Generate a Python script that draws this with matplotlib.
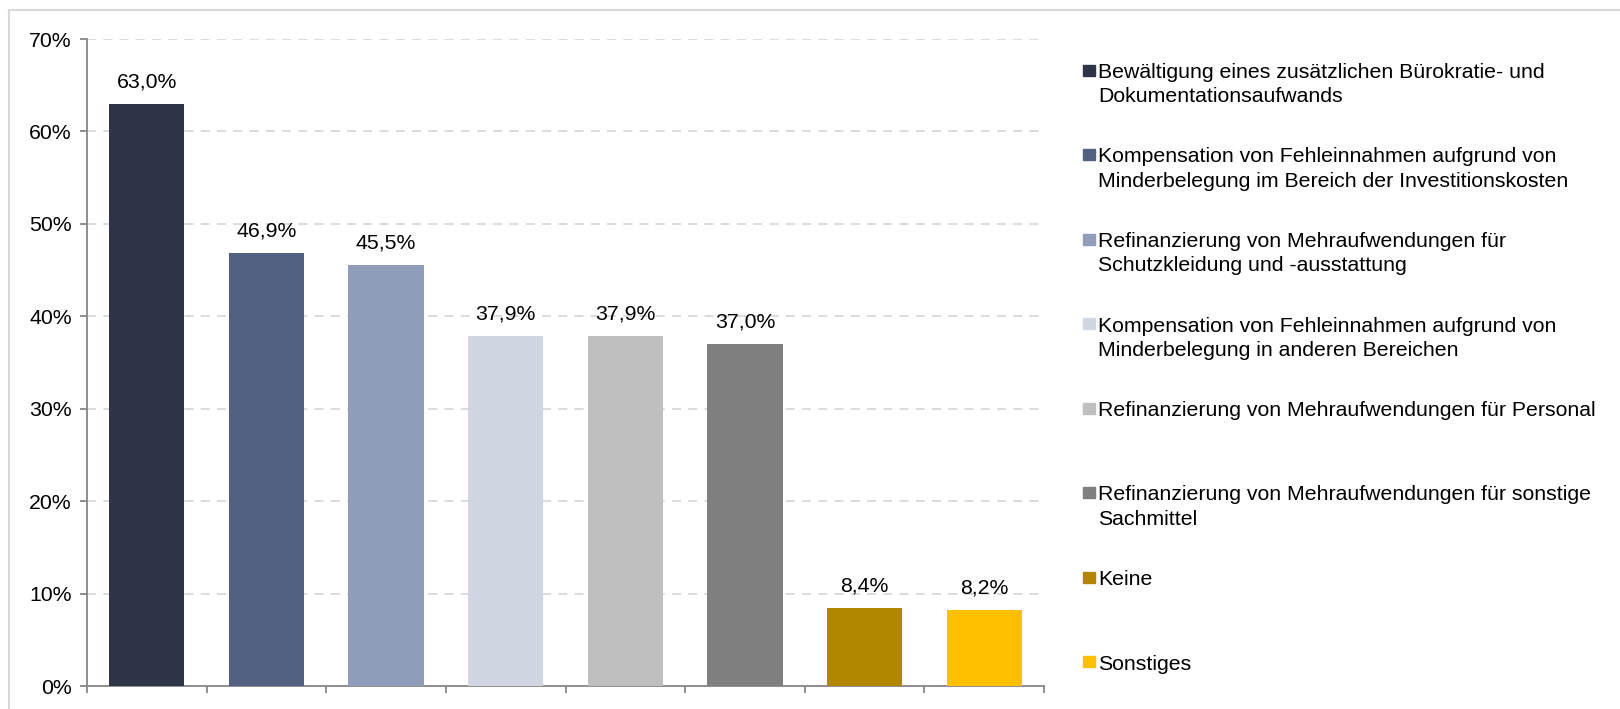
import matplotlib.pyplot as plt
from matplotlib.lines import Line2D
from matplotlib.patches import Rectangle

kategorien = [
    "Bewältigung eines zusätzlichen Bürokratie- und\nDokumentationsaufwands",
    "Kompensation von Fehleinnahmen aufgrund von\nMinderbelegung im Bereich der Investitionskosten",
    "Refinanzierung von Mehraufwendungen für\nSchutzkleidung und -ausstattung",
    "Kompensation von Fehleinnahmen aufgrund von\nMinderbelegung in anderen Bereichen",
    "Refinanzierung von Mehraufwendungen für Personal",
    "Refinanzierung von Mehraufwendungen für sonstige\nSachmittel",
    "Keine",
    "Sonstiges",
]
werte = [63.0, 46.9, 45.5, 37.9, 37.9, 37.0, 8.4, 8.2]
farben = ["#2E3549", "#526181", "#8F9DBA", "#D1D7E2",
          "#BFBFBF", "#7F7F7F", "#B38600", "#FFC000"]
y_ticks = [0, 10, 20, 30, 40, 50, 60, 70]

plt.rcParams["font.family"] = ["Liberation Sans", "DejaVu Sans"]
schrift = 15.3

fig = plt.figure(figsize=(16.2, 7.09), dpi=100)
ax = fig.add_axes([87 / 1620, 1 - 686 / 709, (1044 - 87) / 1620, (686 - 39) / 709])

x = list(range(len(werte)))
ax.bar(x, werte, width=0.63, color=farben, zorder=3)

for xi, w in zip(x, werte):
    ax.annotate(f"{w:.1f}%".replace(".", ","), (xi, w),
                xytext=(0, 9), textcoords="offset points",
                ha="center", va="bottom", fontsize=schrift)

ax.set_xlim(-0.5, len(werte) - 0.5)
ax.set_ylim(0, 70)
ax.set_yticks(y_ticks)
ax.set_yticklabels([f"{t}%" for t in y_ticks], fontsize=schrift)
ax.set_xticks([i - 0.5 for i in range(len(werte) + 1)])
ax.set_xticklabels([])

ax.grid(axis="y", color="#D9D9D9", linestyle=(0, (5, 4)), linewidth=1.3, zorder=0)
ax.set_axisbelow(True)
for side in ["top", "right"]:
    ax.spines[side].set_visible(False)
for side in ["left", "bottom"]:
    ax.spines[side].set_color("#868686")
    ax.spines[side].set_linewidth(1.3)
ax.tick_params(axis="both", color="#868686", width=1.3, length=5, pad=6)

# Legende
for i, (label, farbe) in enumerate(zip(kategorien, farben)):
    y_px = 70 + 84.5 * i
    fig.patches.append(Rectangle((1083 / 1620, 1 - (y_px + 5.5) / 709),
                                 12 / 1620, 11 / 709, color=farbe,
                                 transform=fig.transFigure))
    fig.text(1098 / 1620, 1 - (y_px - 7) / 709, label, fontsize=schrift,
             va="top", ha="left", linespacing=1.34)

# Rahmen
fig.lines.append(Line2D([9 / 1620, 1], [1 - 10 / 709, 1 - 10 / 709],
                        color="#D9D9D9", linewidth=1.5, transform=fig.transFigure))
fig.lines.append(Line2D([9 / 1620, 9 / 1620], [0, 1 - 10 / 709],
                        color="#D9D9D9", linewidth=1.5, transform=fig.transFigure))

fig.savefig("out.png", dpi=100)
